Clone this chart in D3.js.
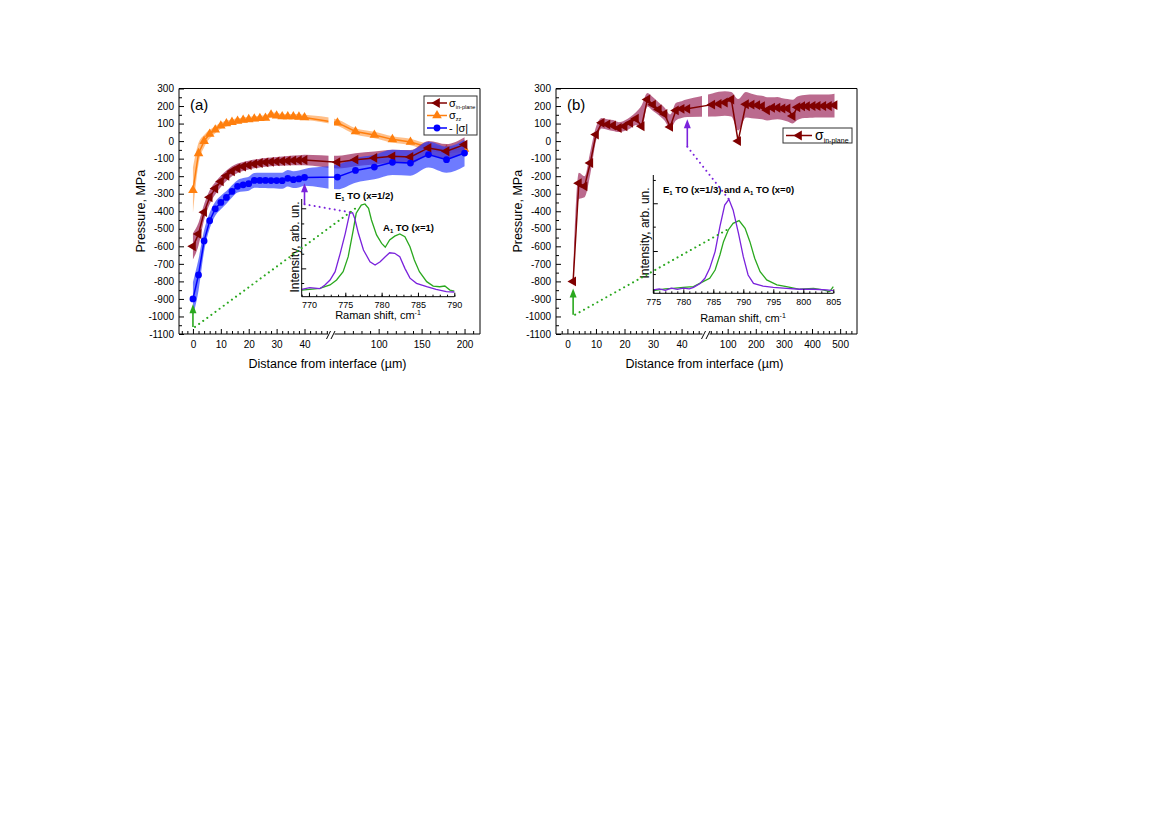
<!DOCTYPE html>
<html>
<head>
<meta charset="utf-8">
<script src="https://cdn.jsdelivr.net/npm/d3@7"></script>
<style>
  body { margin: 0; background: #fff; }
  svg { font-family: "Liberation Sans", Arial, sans-serif; }
</style>
</head>
<body>
<svg id="chart" width="1168" height="827"></svg>
<script>
/* Residual stress profiles with Raman insets, panels (a) and (b) */

const RED = "#800000";
const ORANGE = "#ff7f0e";
const BLUE = "#0000ff";
const GREEN = "#2aa81e";
const PURPLE = "#7a22dc";

// ---- shared pressure axis (MPa)
const Y_TICKS = d3.range(-1100, 301, 100);
const Y_MINOR = d3.range(-1050, 300, 100);

// ---- panel (a): distance (µm), first and second axis segment
const distA1 = [0, 2, 4, 6, 8, 10, 12, 14, 16, 18, 20, 22, 24, 26, 28, 30, 32, 34, 36, 38, 40];
const distA2 = [52, 73, 95, 116, 137, 158, 179, 200];

const inPlaneA1 = [-600, -530, -405, -320, -270, -230, -198, -172, -155, -145, -137, -130, -125, -121, -118, -116, -114, -112, -110, -109, -108];
const inPlaneA2 = [-120, -106, -96, -87, -90, -39, -58, -20];
const inPlaneErrA1 = [75, 65, 45, 40, 35, 32, 30, 28, 27, 26, 25, 25, 25, 25, 25, 25, 26, 27, 28, 29, 30];
const inPlaneErrA2 = [36, 37, 37, 38, 39, 40, 41, 42];

const zzA1 = [-280, -70, 0, 40, 65, 88, 100, 108, 115, 120, 124, 127, 130, 132, 150, 145, 140, 140, 140, 138, 135];
const zzA2 = [105, 55, 35, 10, -5, -35, -50, -45];
const zzErrA1 = [130, 60, 35, 25, 20, 18, 16, 15, 15, 15, 15, 15, 15, 15, 15, 15, 15, 15, 15, 15, 15];
const zzErrA2 = [18, 18, 18, 18, 18, 18, 18, 18];

const absA1 = [-900, -763, -569, -454, -386, -350, -321, -287, -258, -249, -243, -224, -224, -224, -225, -225, -226, -212, -220, -216, -207];
const absA2 = [-205, -167, -148, -121, -125, -77, -106, -68];
const absErrA1 = [95, 90, 60, 45, 40, 38, 36, 35, 35, 38, 40, 42, 43, 43, 44, 45, 46, 47, 48, 48, 48];
const absErrA2 = [70, 70, 70, 72, 72, 74, 75, 76];

// ---- panel (b)
const distB1 = [2, 4, 6, 8, 10, 12, 14, 16, 18, 20, 22, 24, 26, 28, 30, 32, 34, 36, 38, 40, 42];
const distB2 = [45, 68, 90, 113, 137, 165, 185, 205, 222, 240, 258, 277, 295, 313, 331, 348, 365, 382, 402, 420, 440, 460, 480];

const inPlaneB1 = [-800, -240, -258, -125, 37, 104, 95, 89, 75, 85, 104, 128, 85, 237, 208, 180, 155, 81, 175, 184, 184];
const inPlaneB2 = [208, 212, 220, 237, 0, 210, 208, 205, 199, 176, 190, 190, 186, 186, 143, 193, 199, 199, 200, 200, 200, 200, 205];
const bandLoB1 = [-840, -330, -320, -190, 0, 72, 65, 58, 52, 57, 72, 92, 68, 198, 172, 148, 118, 72, 118, 132, 138];
const bandHiB1 = [-760, -180, -200, -60, 80, 132, 125, 120, 108, 118, 138, 165, 205, 275, 250, 220, 192, 152, 218, 228, 238];
const bandLoB2 = [140, 142, 145, 140, 60, 135, 130, 128, 125, 118, 122, 125, 120, 112, 100, 120, 130, 132, 133, 134, 134, 134, 135];
const bandHiB2 = [272, 282, 285, 280, 240, 280, 270, 262, 258, 250, 250, 252, 245, 240, 236, 255, 262, 265, 266, 266, 266, 266, 270];

// ---- inset (a) Raman spectra, normalised intensity
const ramanA_purpleX = [769.0, 770.1, 771.5, 772.2, 772.9, 773.6, 774.3, 775.0, 775.6, 776.0, 776.3, 776.8, 777.5, 778.4, 779.1, 779.8, 780.5, 781.1, 781.8, 782.5, 783.2, 783.9, 784.8, 786.2, 787.5, 788.9, 790.0];
const ramanA_purpleY = [0.075, 0.092, 0.082, 0.12, 0.171, 0.256, 0.444, 0.649, 0.854, 0.86, 0.80, 0.649, 0.478, 0.358, 0.324, 0.358, 0.409, 0.45, 0.444, 0.409, 0.29, 0.19, 0.137, 0.102, 0.075, 0.051, 0.048];
const ramanA_greenX = [769.0, 771.5, 772.9, 773.8, 774.7, 775.4, 776.1, 776.5, 777.2, 777.7, 778.2, 778.6, 779.3, 780.0, 780.5, 781.1, 781.8, 782.5, 783.2, 783.9, 784.5, 785.2, 786.2, 787.1, 788.0, 788.7, 789.4, 790.0];
const ramanA_greenY = [0.068, 0.085, 0.12, 0.171, 0.256, 0.41, 0.683, 0.854, 0.938, 0.949, 0.905, 0.785, 0.632, 0.546, 0.506, 0.58, 0.62, 0.642, 0.615, 0.512, 0.376, 0.256, 0.154, 0.109, 0.102, 0.109, 0.068, 0.058];
const ramanA_xTicks = [770, 775, 780, 785, 790];
const ramanA_yTicks = [0.14, 0.29, 0.44, 0.6, 0.75, 0.905];

// ---- inset (b)
const ramanB_purpleX = [775, 776, 777, 778, 779, 780, 781, 781.7, 782.8, 783.6, 784.4, 785.3, 786.1, 786.9, 787.6, 788.3, 789.2, 790, 790.8, 791.7, 793.3, 795, 797.2, 799.4, 801.7, 803.9, 805];
const ramanB_purpleY = [0.034, 0.045, 0.03, 0.052, 0.04, 0.052, 0.045, 0.061, 0.10, 0.153, 0.254, 0.424, 0.678, 0.898, 0.956, 0.848, 0.61, 0.373, 0.186, 0.10, 0.074, 0.061, 0.051, 0.041, 0.041, 0.034, 0.027];
const ramanB_greenX = [775, 777, 778.3, 780, 781.7, 783.3, 784.4, 785.3, 786.1, 786.7, 787.5, 788.3, 789.3, 790.3, 791.1, 791.9, 792.8, 793.9, 795.6, 797.2, 799.4, 801.7, 803.3, 804.4, 805];
const ramanB_greenY = [0.027, 0.045, 0.051, 0.06, 0.068, 0.119, 0.153, 0.237, 0.39, 0.525, 0.644, 0.712, 0.74, 0.661, 0.525, 0.356, 0.22, 0.136, 0.085, 0.068, 0.041, 0.051, 0.034, 0.017, 0.068];
const ramanB_xTicks = [775, 780, 785, 790, 795, 800, 805];
const ramanB_yTicks = [0.196, 0.43, 0.678, 0.916, 1.153];

// ---- layout
const svg = d3.select("#chart");
const y = d3.scaleLinear([-1100, 300], [334, 88.5]);
const TOP = 88.5, BOTTOM = 334;

const panelA = {
  left: 179, right: 480,
  x1: d3.scaleLinear([-5, 49.5], [179, 331]),
  x2: d3.scaleLinear([48, 218], [334, 480]),
  ticks1: [0, 10, 20, 30, 40], minor1: d3.range(-4, 49, 2).filter(d => d % 10),
  ticks2: [100, 150, 200], minor2: d3.range(50, 218, 10).filter(d => d % 50),
  gap: [328.5, 334], brk: 331, bottom: [[179, 328], [334.5, 480]],
  tag: "(a)",
};
const panelB = {
  left: 556, right: 857,
  x1: d3.scaleLinear([-4, 47.5], [556, 703]),
  x2: d3.scaleLinear([30, 560], [708, 857]),
  ticks1: [0, 10, 20, 30, 40], minor1: d3.range(-2, 47, 2).filter(d => d % 10),
  ticks2: [100, 200, 300, 400, 500], minor2: d3.range(40, 560, 20).filter(d => d % 100),
  gap: [702, 708], brk: 706, bottom: [[556, 702.5], [709.5, 857]],
  tag: "(b)",
};

const triLeft = d3.symbol().type(d3.symbolTriangle).size(42);
const triUp = d3.symbol().type(d3.symbolTriangle).size(40);

function seg(xs, vs, sx, los, his) {
  return xs.map((d, i) => ({ px: sx(d), v: vs[i], lo: los[i], hi: his[i] }));
}

function drawBand(g, pts, color, op) {
  g.append("path").datum(pts)
    .attr("d", d3.area().x(d => d.px).y0(d => y(d.lo)).y1(d => y(d.hi)).curve(d3.curveMonotoneX))
    .attr("fill", color).attr("fill-opacity", op);
}

function drawLine(g, pts, color) {
  g.append("path").datum(pts)
    .attr("d", d3.line().x(d => d.px).y(d => y(d.v)))
    .attr("fill", "none").attr("stroke", color).attr("stroke-width", 1.5);
}

function drawMarkers(g, pts, color, kind) {
  const sel = g.append("g").selectAll("path").data(pts).join("path").attr("fill", color);
  if (kind === "circle") {
    sel.attr("d", d3.symbol().type(d3.symbolCircle).size(36))
      .attr("transform", d => `translate(${d.px},${y(d.v)})`);
  } else if (kind === "left") {
    sel.attr("d", triLeft).attr("transform", d => `translate(${d.px},${y(d.v)}) rotate(-90)`);
  } else {
    sel.attr("d", triUp).attr("transform", d => `translate(${d.px},${y(d.v)})`);
  }
}

function drawGap(g, p) {
  g.append("rect").attr("x", p.gap[0]).attr("y", TOP + 0.5)
    .attr("width", p.gap[1] - p.gap[0]).attr("height", BOTTOM - TOP - 1).attr("fill", "#fff");
}

function drawFrame(g, p) {
  const fr = g.append("g").attr("stroke", "#000").attr("stroke-width", 1).attr("fill", "none");
  fr.append("line").attr("x1", p.left).attr("x2", p.right).attr("y1", TOP).attr("y2", TOP);
  fr.append("line").attr("x1", p.left).attr("x2", p.left).attr("y1", TOP).attr("y2", BOTTOM);
  fr.append("line").attr("x1", p.right).attr("x2", p.right).attr("y1", TOP).attr("y2", BOTTOM);
  p.bottom.forEach(([a, b]) =>
    fr.append("line").attr("x1", a).attr("x2", b).attr("y1", BOTTOM).attr("y2", BOTTOM));
  const b = p.brk;
  fr.append("path").attr("d", `M${b - 4.5},${BOTTOM + 5}L${b - 0.5},${BOTTOM - 3}M${b},${BOTTOM + 5}L${b + 4},${BOTTOM - 3}`);

  // y axis
  const ya = g.append("g").attr("transform", `translate(${p.left},0)`)
    .call(d3.axisLeft(y).tickValues(Y_TICKS).tickSize(-5).tickPadding(5).tickFormat(d => String(d)));
  const ym = g.append("g").attr("transform", `translate(${p.left},0)`)
    .call(d3.axisLeft(y).tickValues(Y_MINOR).tickSize(-3).tickFormat(""));
  // x axis segments
  const xa1 = g.append("g").attr("transform", `translate(0,${BOTTOM})`)
    .call(d3.axisBottom(p.x1).tickValues(p.ticks1).tickSize(-5).tickPadding(7).tickFormat(d => String(d)));
  const xm1 = g.append("g").attr("transform", `translate(0,${BOTTOM})`)
    .call(d3.axisBottom(p.x1).tickValues(p.minor1).tickSize(-3).tickFormat(""));
  const xa2 = g.append("g").attr("transform", `translate(0,${BOTTOM})`)
    .call(d3.axisBottom(p.x2).tickValues(p.ticks2).tickSize(-5).tickPadding(7).tickFormat(d => String(d)));
  const xm2 = g.append("g").attr("transform", `translate(0,${BOTTOM})`)
    .call(d3.axisBottom(p.x2).tickValues(p.minor2).tickSize(-3).tickFormat(""));
  [ya, ym, xa1, xm1, xa2, xm2].forEach(a => {
    a.select(".domain").remove();
    a.attr("font-family", null).attr("font-size", 10);
    a.selectAll("text").attr("fill", "#000");
  });

  g.append("text").attr("transform", `translate(${p.left - 34.5},${(TOP + BOTTOM) / 2}) rotate(-90)`)
    .attr("text-anchor", "middle").attr("font-size", 12.5).text("Pressure, MPa");
  g.append("text").attr("x", (p.left + p.right) / 2 - 2).attr("y", 368)
    .attr("text-anchor", "middle").attr("font-size", 12.5).text("Distance from interface (µm)");
  g.append("text").attr("x", p.left + 11).attr("y", 110).attr("font-size", 15).text(p.tag);
}

function drawInset(g, cfg) {
  const xs = d3.scaleLinear(cfg.xDomain, cfg.xRange);
  const ys = d3.scaleLinear([0, 1], cfg.yRange);
  const line = d3.line().x(d => xs(d[0])).y(d => ys(d[1]));
  cfg.spectra.forEach(s => {
    g.append("path").datum(s.x.map((d, i) => [d, s.y[i]]))
      .attr("d", line).attr("fill", "none").attr("stroke", s.color).attr("stroke-width", 1.3);
  });
  const x0 = cfg.xRange[0], y0 = cfg.yRange[0];
  g.append("line").attr("x1", x0).attr("x2", cfg.xRange[1]).attr("y1", y0).attr("y2", y0).attr("stroke", "#000");
  g.append("line").attr("x1", x0).attr("x2", x0).attr("y1", y0).attr("y2", cfg.yTop).attr("stroke", "#000");

  const xa = g.append("g").attr("transform", `translate(0,${y0})`)
    .call(d3.axisBottom(xs).tickValues(cfg.xTicks).tickSize(-4).tickPadding(5).tickFormat(d => String(d)));
  const xm = g.append("g").attr("transform", `translate(0,${y0})`)
    .call(d3.axisBottom(xs).tickValues(d3.range(cfg.xDomain[0], cfg.xDomain[1] + 0.01, 1)).tickSize(-2).tickFormat(""));
  const ya = g.append("g").attr("transform", `translate(${x0},0)`)
    .call(d3.axisLeft(ys).tickValues(cfg.yTicks).tickSize(-3).tickFormat(""));
  ya.selectAll(".tick line").attr("x2", (d, i) => (i % 2 === cfg.yMajorParity ? 4.5 : 2.5));
  [xa, xm, ya].forEach(a => {
    a.select(".domain").remove();
    a.attr("font-family", null).attr("font-size", 9);
    a.selectAll("text").attr("fill", "#000");
  });

  const xl = g.append("text").attr("x", cfg.xLabel[0]).attr("y", cfg.xLabel[1])
    .attr("text-anchor", "middle").attr("font-size", 11);
  xl.append("tspan").text("Raman shift, cm");
  xl.append("tspan").attr("font-size", 7).attr("dy", -4).text("-1");
  g.append("text").attr("transform", `translate(${cfg.yLabel[0]},${cfg.yLabel[1]}) rotate(-90)`)
    .attr("text-anchor", "middle").attr("font-size", 12).text("Intensity, arb. un.");

  cfg.notes.forEach(n => {
    const t = g.append("text").attr("x", n.x).attr("y", n.y).attr("font-size", 9.5).attr("font-weight", "bold");
    n.parts.forEach(part => {
      if (part.sub) t.append("tspan").attr("font-size", 6).attr("dy", 2).text(part.sub);
      else t.append("tspan").attr("dy", part.reset ? -2 : 0).text(part.t);
    });
  });
  return { xs, ys };
}

function arrowUp(g, x, yBase, yTip, color) {
  g.append("line").attr("x1", x).attr("x2", x).attr("y1", yBase).attr("y2", yTip + 6)
    .attr("stroke", color).attr("stroke-width", 1.6);
  g.append("path").attr("d", `M${x},${yTip}L${x - 3.5},${yTip + 9}L${x + 3.5},${yTip + 9}Z`).attr("fill", color);
}

function dotted(g, x1, y1, x2, y2, color) {
  g.append("line").attr("x1", x1).attr("y1", y1).attr("x2", x2).attr("y2", y2)
    .attr("stroke", color).attr("stroke-width", 2).attr("stroke-linecap", "round")
    .attr("stroke-dasharray", "0.1,5");
}

function legendRow(g, x, yy, color, kind, label, sub, big) {
  g.append("line").attr("x1", x).attr("x2", x + (big ? 26 : 20)).attr("y1", yy).attr("y2", yy)
    .attr("stroke", color).attr("stroke-width", 1.5);
  drawMarkers(g, [{ px: x + (big ? 13 : 10), v: y.invert(yy) }], color, kind);
  const t = g.append("text").attr("x", x + (big ? 29 : 22)).attr("y", yy + (big ? 4 : 3.5))
    .attr("font-size", big ? 14 : 11);
  t.append("tspan").text(label);
  if (sub) t.append("tspan").attr("font-size", big ? 7 : 5.5).attr("dy", big ? 3 : 2).text(sub);
}

// ================= panel (a)
(function () {
  const p = panelA;
  const g = svg.append("g");
  const sub = (a, e) => a.map((v, i) => v - e[i]);
  const add = (a, e) => a.map((v, i) => v + e[i]);
  const zz = seg(distA1, zzA1, p.x1, sub(zzA1, zzErrA1), add(zzA1, zzErrA1))
    .concat(seg(distA2, zzA2, p.x2, sub(zzA2, zzErrA2), add(zzA2, zzErrA2)));
  const inp = seg(distA1, inPlaneA1, p.x1, sub(inPlaneA1, inPlaneErrA1), add(inPlaneA1, inPlaneErrA1))
    .concat(seg(distA2, inPlaneA2, p.x2, sub(inPlaneA2, inPlaneErrA2), add(inPlaneA2, inPlaneErrA2)));
  const ab = seg(distA1, absA1, p.x1, sub(absA1, absErrA1), add(absA1, absErrA1))
    .concat(seg(distA2, absA2, p.x2, sub(absA2, absErrA2), add(absA2, absErrA2)));

  drawBand(g, zz, "#ff8c2a", 0.55);
  drawLine(g, zz, ORANGE);
  drawMarkers(g, zz, ORANGE, "up");
  drawBand(g, inp, "#9b2458", 0.7);
  drawBand(g, ab, "#2a3cff", 0.68);
  drawGap(g, p);
  drawLine(g, inp, RED);
  drawLine(g, ab, BLUE);
  drawMarkers(g, inp, RED, "left");
  drawMarkers(g, ab, BLUE, "circle");

  const ins = drawInset(g, {
    xDomain: [769, 790], xRange: [301.7, 454.3], yRange: [296.7, 199], yTop: 199,
    xTicks: ramanA_xTicks, yTicks: ramanA_yTicks, yMajorParity: 1,
    spectra: [
      { x: ramanA_greenX, y: ramanA_greenY, color: GREEN },
      { x: ramanA_purpleX, y: ramanA_purpleY, color: PURPLE },
    ],
    xLabel: [378, 318.5], yLabel: [299, 247],
    notes: [
      { x: 335, y: 199, parts: [{ t: "E" }, { sub: "1" }, { t: " TO (x=1/2)", reset: true }] },
      { x: 383, y: 231, parts: [{ t: "A" }, { sub: "1" }, { t: " TO (x=1)", reset: true }] },
    ],
  });

  // annotations: arrows to the measured points, dotted leaders to the spectra
  const xp = p.x1(distA1[distA1.length - 1]);
  arrowUp(g, xp, y(-360), y(-240), PURPLE);
  dotted(g, xp, y(-360), ins.xs(776.0), ins.ys(0.86), PURPLE);
  const xg = p.x1(distA1[0]);
  arrowUp(g, xg, y(-1060), y(-930), GREEN);
  dotted(g, xg + 2, y(-1060), ins.xs(776.5), ins.ys(0.91), GREEN);

  drawFrame(g, p);

  // legend
  const lg = g.append("g");
  lg.append("rect").attr("x", 424).attr("y", 96).attr("width", 53).attr("height", 39)
    .attr("fill", "#fff").attr("stroke", "#333").attr("stroke-width", 1);
  legendRow(lg, 427, 103, RED, "left", "σ", "in-plane", false);
  legendRow(lg, 427, 115.5, ORANGE, "up", "σ", "zz", false);
  legendRow(lg, 427, 128, BLUE, "circle", "- |σ|", "", false);
})();

// ================= panel (b)
(function () {
  const p = panelB;
  const g = svg.append("g");
  const inp = seg(distB1, inPlaneB1, p.x1, bandLoB1, bandHiB1)
    .concat(seg(distB2, inPlaneB2, p.x2, bandLoB2, bandHiB2));

  drawBand(g, inp, "#9b2458", 0.68);
  drawGap(g, p);
  drawLine(g, inp, RED);
  drawMarkers(g, inp, RED, "left");

  const ins = drawInset(g, {
    xDomain: [775, 805], xRange: [653.3, 833.3], yRange: [293.3, 195], yTop: 175,
    xTicks: ramanB_xTicks, yTicks: ramanB_yTicks, yMajorParity: 1,
    spectra: [
      { x: ramanB_greenX, y: ramanB_greenY, color: GREEN },
      { x: ramanB_purpleX, y: ramanB_purpleY, color: PURPLE },
    ],
    xLabel: [743, 322], yLabel: [649, 233],
    notes: [
      { x: 663, y: 193, parts: [{ t: "E" }, { sub: "1" }, { t: " TO (x=1/3) and A", reset: true }, { sub: "1" }, { t: " TO (x=0)", reset: true }] },
    ],
  });

  const xp = p.x1(distB1[distB1.length - 1]);
  arrowUp(g, xp, y(-32), y(125), PURPLE);
  dotted(g, xp, y(-32), ins.xs(787.6), ins.ys(0.956), PURPLE);
  const xg = p.x1(distB1[0]);
  arrowUp(g, xg, y(-990), y(-840), GREEN);
  dotted(g, xg + 2, y(-990), ins.xs(787.8), ins.ys(0.664), GREEN);

  drawFrame(g, p);

  const lg = g.append("g");
  lg.append("rect").attr("x", 783).attr("y", 128).attr("width", 69).attr("height", 15)
    .attr("fill", "#fff").attr("stroke", "#333").attr("stroke-width", 1);
  legendRow(lg, 786, 135.5, RED, "left", "σ", "in-plane", true);
})();
</script>
</body>
</html>
